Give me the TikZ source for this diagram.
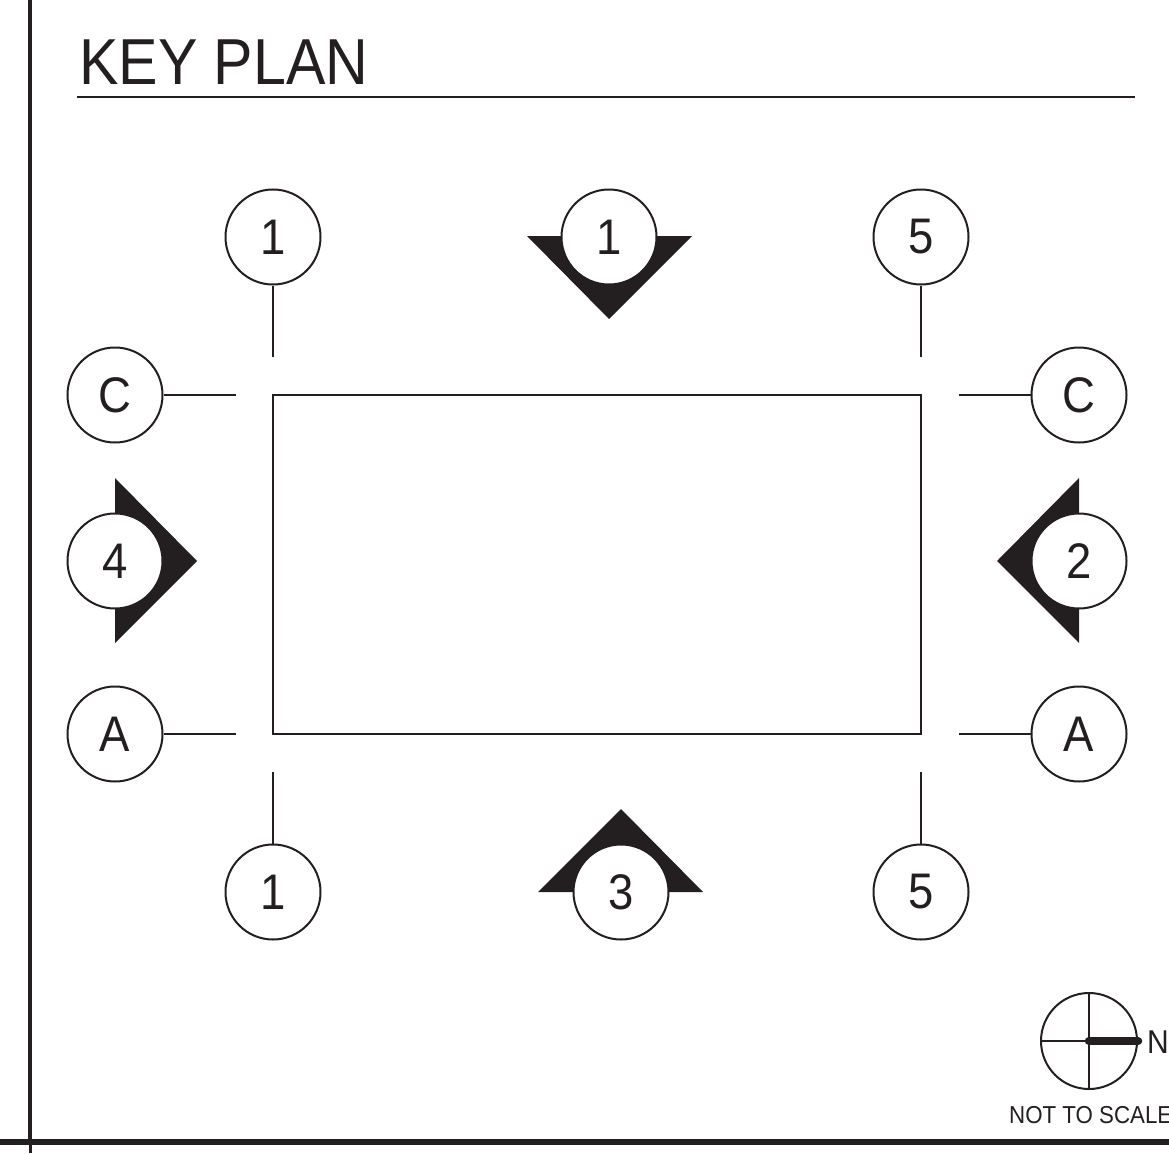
\documentclass[tikz,border=0pt]{standalone}
\usepackage{fontspec}
\setmainfont[FakeStretch=0.91]{Liberation Sans}
\definecolor{ink}{HTML}{231F20}
\tikzset{
  bubble/.style={circle,draw=ink,line width=2pt,fill=white,minimum size=95pt,inner sep=0pt,text=ink,font=\fontsize{50}{50}\selectfont},
  wedge/.style={fill=ink,draw=none},
  thinline/.style={draw=ink,line width=2pt}
}
\begin{document}
\begin{tikzpicture}[x=1pt,y=-1pt]
  \useasboundingbox (0,0) rectangle (1169,1153);
  \clip (0,0) rectangle (1169,1153);
  % frame
  \draw[ink,line width=4.8pt] (30,0) -- (30,1142);
  \draw[ink,line width=3pt] (30,1142) -- (30,1153);
  \draw[ink,line width=6pt] (0,1142) -- (1169,1142);
  % title
  \node[anchor=base west,inner sep=0pt,text=ink,font=\fontsize{65}{65}\selectfont] (title) at (79,85) {KEY PLAN};
  \draw[ink,line width=2pt] (77,97) -- (1135,97);
  % plan outline
  \node[thinline,draw,minimum width=648pt,minimum height=339pt,inner sep=0pt] (plan) at (597,564.5) {};
  % section wedges
  \fill[wedge] (527,236) -- (692,236) -- (609,319) -- cycle;
  \fill[wedge] (1079,478) -- (1079,643) -- (997,561) -- cycle;
  \fill[wedge] (115,478) -- (115,643) -- (197,561) -- cycle;
  \fill[wedge] (538,892) -- (703,892) -- (621,809) -- cycle;
  % bubbles
  \node[bubble] (topL) at (273,237) {1};
  \node[bubble] (topM) at (609,237) {1};
  \node[bubble] (topR) at (921,237) {5};
  \node[bubble] (leftC) at (115,395) {C};
  \node[bubble] (rightC) at (1079,395) {C};
  \node[bubble] (leftM) at (115,561) {4};
  \node[bubble] (rightM) at (1079,561) {2};
  \node[bubble] (leftA) at (115,734) {A};
  \node[bubble] (rightA) at (1079,734) {A};
  \node[bubble] (botL) at (273,892) {1};
  \node[bubble] (botM) at (621,892) {3};
  \node[bubble] (botR) at (921,892) {5};
  % grid line ends
  \coordinate (endTL) at (273,357);
  \coordinate (endTR) at (921,357);
  \coordinate (endLC) at (236,395);
  \coordinate (endRC) at (959,395);
  \coordinate (endLA) at (236,734);
  \coordinate (endRA) at (959,734);
  \coordinate (endBL) at (273,772);
  \coordinate (endBR) at (921,772);
  \draw[thinline] (topL) -- (endTL);
  \draw[thinline] (topR) -- (endTR);
  \draw[thinline] (leftC) -- (endLC);
  \draw[thinline] (rightC) -- (endRC);
  \draw[thinline] (leftA) -- (endLA);
  \draw[thinline] (rightA) -- (endRA);
  \draw[thinline] (botL) -- (endBL);
  \draw[thinline] (botR) -- (endBR);
  % north arrow
  \node[circle,draw=ink,line width=2pt,minimum size=96pt,inner sep=0pt] (north) at (1089,1041) {};
  \coordinate (northC) at (1089,1041);
  \draw[thinline] (north.north) -- (north.south);
  \draw[thinline] (north.west) -- (north.east);
  \draw[ink,line width=8.5pt,line cap=round] (northC) -- (north.east);
  \node[anchor=base west,inner sep=0pt,text=ink,font=\fontsize{33}{33}\selectfont] (northN) at (1147,1053) {N};
  \node[anchor=base west,inner sep=0pt,text=ink,font=\fontsize{24.5}{24.5}\selectfont] (scale) at (1009,1123) {NOT TO SCALE};
\end{tikzpicture}
\end{document}
